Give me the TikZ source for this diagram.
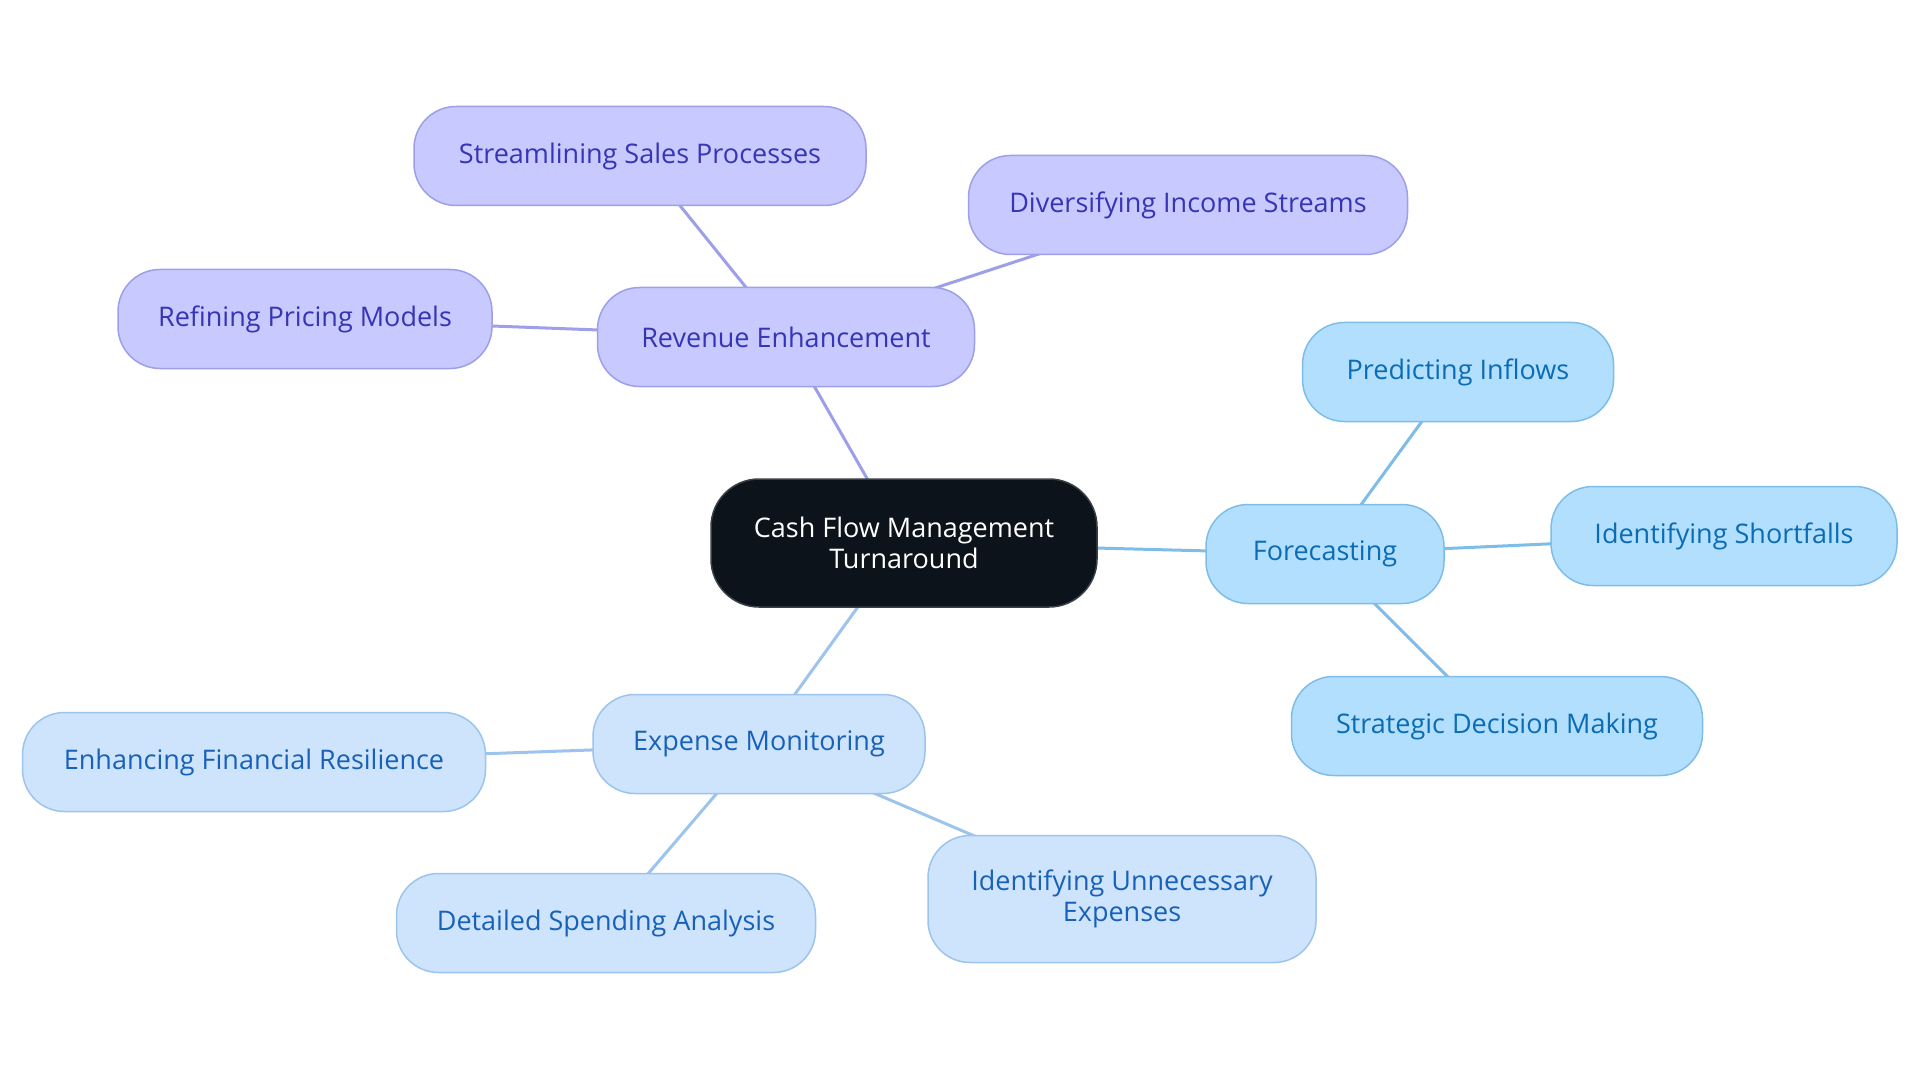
\documentclass[tikz,border=0pt]{standalone}
\usepackage{fontspec}
\setmainfont{Open Sans}
\usetikzlibrary{backgrounds}
\definecolor{revfill}{HTML}{C8C9FE}
\definecolor{revline}{HTML}{9D9FE8}
\definecolor{revtext}{HTML}{3535B5}
\definecolor{forfill}{HTML}{B3DFFE}
\definecolor{forline}{HTML}{7DBDE8}
\definecolor{fortext}{HTML}{0A6CB5}
\definecolor{expfill}{HTML}{CEE4FC}
\definecolor{expline}{HTML}{9CC4EC}
\definecolor{exptext}{HTML}{1861B8}
\definecolor{cenfill}{HTML}{0C131A}
\definecolor{cenline}{HTML}{3A4048}
\tikzset{
  base/.style={draw, line width=1.5pt, rounded corners=42pt, align=center, inner sep=0pt,
    font=\fontsize{27}{31}\selectfont, minimum height=99pt},
  rev/.style={base, fill=revfill, draw=revline, text=revtext},
  fore/.style={base, fill=forfill, draw=forline, text=fortext},
  expn/.style={base, fill=expfill, draw=expline, text=exptext},
  cen/.style={base, fill=cenfill, draw=cenline, text=white, minimum height=128pt, rounded corners=48pt},
  revedge/.style={draw=revline, line width=3pt},
  foredge/.style={draw=forline, line width=3pt},
  expedge/.style={draw=expline, line width=3pt},
}
\begin{document}
\begin{tikzpicture}[x=1pt,y=-1pt]
\useasboundingbox (0,0) rectangle (1920,1083);
\node[cen, minimum width=386pt] (c) at (904,543) {Cash Flow Management\\Turnaround};
\node[rev, minimum width=377pt] (rev) at (786,337) {Revenue Enhancement};
\node[rev, minimum width=452pt] (ssp) at (640,156) {Streamlining Sales Processes};
\node[rev, minimum width=439pt] (dis) at (1188,205) {Diversifying Income Streams};
\node[rev, minimum width=374pt] (rpm) at (305,319) {Refining Pricing Models};
\node[fore, minimum width=238pt] (fc) at (1325,554) {Forecasting};
\node[fore, minimum width=311pt] (pin) at (1458,372) {Predicting Inflows};
\node[fore, minimum width=346pt] (isf) at (1724,536) {Identifying Shortfalls};
\node[fore, minimum width=411pt] (sdm) at (1497,726) {Strategic Decision Making};
\node[expn, minimum width=332pt] (em) at (759,744) {Expense Monitoring};
\node[expn, minimum width=463pt] (efr) at (254,762) {Enhancing Financial Resilience};
\node[expn, minimum width=419pt] (dsa) at (606,923) {Detailed Spending Analysis};
\node[expn, minimum width=388pt, minimum height=127pt] (iue) at (1122,899) {Identifying Unnecessary\\Expenses};
\begin{scope}[on background layer]
\fill[white] (0,0) rectangle (1920,1083);
\draw[revedge] (c.center) -- (rev.center);
\draw[revedge] (rev.center) -- (ssp.center);
\draw[revedge] (rev.center) -- (dis.center);
\draw[revedge] (rev.center) -- (rpm.center);
\draw[foredge] (c.center) -- (fc.center);
\draw[foredge] (fc.center) -- (pin.center);
\draw[foredge] (fc.center) -- (isf.center);
\draw[foredge] (fc.center) -- (sdm.center);
\draw[expedge] (c.center) -- (em.center);
\draw[expedge] (em.center) -- (efr.center);
\draw[expedge] (em.center) -- (dsa.center);
\draw[expedge] (em.center) -- (iue.center);
\end{scope}
\end{tikzpicture}
\end{document}
